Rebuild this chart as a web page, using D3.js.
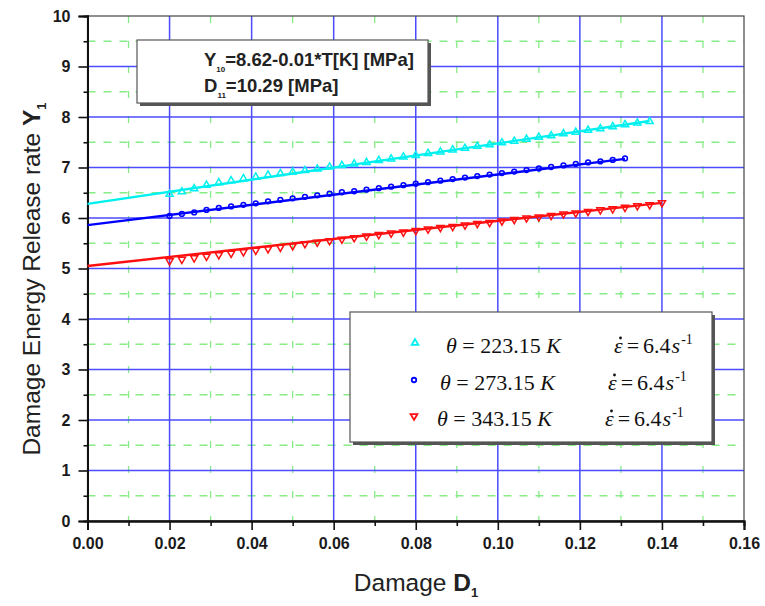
<!DOCTYPE html>
<html lang="en">
<head>
<meta charset="utf-8">
<script src="https://d3js.org/d3.v7.min.js"></script>
<style>
  body { margin: 0; background: #fff; }
  svg { display: block; font-family: Arial, "Liberation Sans", sans-serif; }
</style>
</head>
<body>
<script>
// damage D1 where points were measured (all series share these, shorter ones stop early)
const damage = [0.020, 0.023, 0.026, 0.029, 0.032, 0.035, 0.038, 0.041, 0.044, 0.047,
                0.050, 0.053, 0.056, 0.059, 0.062, 0.065, 0.068, 0.071, 0.074, 0.077,
                0.080, 0.083, 0.086, 0.089, 0.092, 0.095, 0.098, 0.101, 0.104, 0.107,
                0.110, 0.113, 0.116, 0.119, 0.122, 0.125, 0.128, 0.131, 0.134, 0.137, 0.140];

// Y1 values
const y223 = [6.47, 6.52, 6.58, 6.65, 6.70, 6.74, 6.78, 6.81, 6.85, 6.88,
              6.91, 6.94, 6.97, 7.01, 7.04, 7.07, 7.10, 7.14, 7.17, 7.21,
              7.24, 7.28, 7.31, 7.35, 7.38, 7.42, 7.45, 7.49, 7.52, 7.56,
              7.60, 7.63, 7.67, 7.70, 7.74, 7.77, 7.81, 7.85, 7.88, 7.91];
const y273 = [6.04, 6.08, 6.11, 6.16, 6.20, 6.23, 6.26, 6.29, 6.33, 6.36,
              6.39, 6.42, 6.45, 6.48, 6.51, 6.53, 6.56, 6.59, 6.62, 6.65,
              6.68, 6.71, 6.74, 6.77, 6.80, 6.83, 6.86, 6.89, 6.92, 6.95,
              6.98, 7.01, 7.04, 7.07, 7.10, 7.12, 7.15, 7.18];
const y343 = [5.15, 5.18, 5.21, 5.24, 5.27, 5.30, 5.33, 5.36, 5.39, 5.42,
              5.45, 5.49, 5.52, 5.55, 5.58, 5.61, 5.64, 5.67, 5.70, 5.72,
              5.75, 5.78, 5.81, 5.83, 5.86, 5.89, 5.91, 5.94, 5.97, 6.00,
              6.02, 6.05, 6.08, 6.10, 6.13, 6.16, 6.18, 6.21, 6.24, 6.26, 6.30];

// fitted lines, start and end points [D1, Y1]
const fit223 = [[0, 6.28], [0.137, 7.92]];
const fit273 = [[0, 5.86], [0.131, 7.17]];
const fit343 = [[0, 5.05], [0.140, 6.30]];

const temps = ["223.15", "273.15", "343.15"];
const xTicks = [0, 0.02, 0.04, 0.06, 0.08, 0.10, 0.12, 0.14, 0.16];
const yTicks = [0, 1, 2, 3, 4, 5, 6, 7, 8, 9, 10];

const W = 765, H = 606;
const svg = d3.select("body").append("svg").attr("width", W).attr("height", H);

const x = d3.scaleLinear().domain([0, 0.16]).range([87.5, 744]);
const y = d3.scaleLinear().domain([0, 10]).range([521, 16]);

//minor grid - green dashed
const minorX = d3.range(0.01, 0.16, 0.02);
const minorY = d3.range(0.5, 10, 1);
svg.selectAll(".gmx").data(minorX).enter().append("line")
   .attr("x1", d => x(d)).attr("x2", d => x(d))
   .attr("y1", y(10)).attr("y2", y(0))
   .attr("stroke", "#86ec86").attr("stroke-width", 1.3)
   .attr("stroke-dasharray", "7,18");
svg.selectAll(".gmy").data(minorY).enter().append("line")
   .attr("x1", x(0)).attr("x2", x(0.16))
   .attr("y1", d => y(d)).attr("y2", d => y(d))
   .attr("stroke", "#86ec86").attr("stroke-width", 1.3)
   .attr("stroke-dasharray", "8,8");

//major grid - blue
svg.selectAll(".gx").data(xTicks.slice(1, -1)).enter().append("line")
   .attr("x1", d => x(d)).attr("x2", d => x(d))
   .attr("y1", y(10)).attr("y2", y(0))
   .attr("stroke", "#4b4bff").attr("stroke-width", 1.5);
svg.selectAll(".gy").data(yTicks.slice(1, -1)).enter().append("line")
   .attr("x1", x(0)).attr("x2", x(0.16))
   .attr("y1", d => y(d)).attr("y2", d => y(d))
   .attr("stroke", "#4b4bff").attr("stroke-width", 1.5);

//frame
svg.append("rect")
   .attr("x", x(0)).attr("y", y(10))
   .attr("width", x(0.16) - x(0)).attr("height", y(0) - y(10))
   .attr("fill", "none").attr("stroke", "#444").attr("stroke-width", 1.2);

//axes
const xAxis = d3.axisBottom(x).tickValues(xTicks).tickFormat(d3.format(".2f"))
                .tickSize(9).tickPadding(8);
const xMinor = d3.axisBottom(x).tickValues(minorX).tickFormat("").tickSize(5);
const yAxis = d3.axisLeft(y).tickValues(yTicks).tickFormat(d3.format("d"))
                .tickSize(9).tickPadding(8);
const yMinor = d3.axisLeft(y).tickValues(minorY).tickFormat("").tickSize(4);

[[xAxis, "translate(0," + y(0) + ")"], [xMinor, "translate(0," + y(0) + ")"],
 [yAxis, "translate(" + x(0) + ",0)"], [yMinor, "translate(" + x(0) + ",0)"]].forEach(a => {
  const g = svg.append("g").attr("transform", a[1]).call(a[0]);
  g.selectAll("path").attr("stroke", "#111").attr("stroke-width", 2);
  g.selectAll("line").attr("stroke", "#111").attr("stroke-width", 1.6);
  g.selectAll("text").attr("fill", "#1a1a1a")
   .style("font-size", "16px").style("font-weight", "bold")
   .style("font-family", "Arial, 'Liberation Sans', sans-serif");
});

//series
const series = [
  {ys: y223, fit: fit223, color: "#00f0f0", sym: d3.symbolTriangle, rot: 0},
  {ys: y273, fit: fit273, color: "#0000ff", sym: d3.symbolCircle, rot: 0},
  {ys: y343, fit: fit343, color: "#ff1010", sym: d3.symbolTriangle, rot: 180}
];
const line = d3.line().x(d => x(d[0])).y(d => y(d[1]));

series.forEach(s => {
  const pts = s.ys.map((v, i) => [damage[i], v]);
  svg.append("g").selectAll("path").data(pts).enter().append("path")
     .attr("d", d3.symbol().type(s.sym).size(s.sym === d3.symbolCircle ? 18 : 22))
     .attr("transform", d => "translate(" + x(d[0]) + "," + y(d[1]) + ") rotate(" + s.rot + ")")
     .attr("fill", "none").attr("stroke", s.color).attr("stroke-width", 1.5);
  svg.append("path").datum(s.fit).attr("d", line)
     .attr("fill", "none").attr("stroke", s.color).attr("stroke-width", 2.4);
});

//annotation box
const box = svg.append("g");
box.append("rect").attr("x", 140).attr("y", 43).attr("width", 291).attr("height", 63).attr("fill", "#555");
box.append("rect").attr("x", 137).attr("y", 40).attr("width", 291).attr("height", 63)
   .attr("fill", "#fff").attr("stroke", "#555").attr("stroke-width", 1.2);
const t1 = box.append("text").attr("x", 204).attr("y", 66)
   .style("font-size", "18.5px").style("font-weight", "bold").attr("fill", "#222");
t1.append("tspan").text("Y");
t1.append("tspan").attr("dy", 6).style("font-size", "8px").text("10");
t1.append("tspan").attr("dy", -6).text("=8.62-0.01*T[K] [MPa]");
const t2 = box.append("text").attr("x", 204).attr("y", 92)
   .style("font-size", "18.5px").style("font-weight", "bold").attr("fill", "#222");
t2.append("tspan").text("D");
t2.append("tspan").attr("dy", 6).style("font-size", "8px").text("11");
t2.append("tspan").attr("dy", -6).text("=10.29 [MPa]");

//legend
const leg = svg.append("g");
leg.append("rect").attr("x", 353).attr("y", 315).attr("width", 362).attr("height", 130).attr("fill", "#555");
leg.append("rect").attr("x", 350).attr("y", 312).attr("width", 362).attr("height", 130)
   .attr("fill", "#fff").attr("stroke", "#555").attr("stroke-width", 1.2);
const rowY = [353, 390, 426];
const thetaX = [446, 440, 437];
const epsX = [614, 608, 605];
series.forEach((s, i) => {
  leg.append("path")
     .attr("d", d3.symbol().type(s.sym).size(s.sym === d3.symbolCircle ? 16 : 20))
     .attr("transform", "translate(" + (i === 0 ? 415 : 414) + "," + (rowY[i] - 10) + ") rotate(" + s.rot + ")")
     .attr("fill", "none").attr("stroke", s.color).attr("stroke-width", 1.8);
  const th = leg.append("text").attr("x", thetaX[i]).attr("y", rowY[i])
     .style("font-family", "'Liberation Serif', 'Times New Roman', serif")
     .style("font-size", "22px").attr("fill", "#111");
  th.append("tspan").style("font-style", "italic").text("\u03B8");
  th.append("tspan").text(" = " + temps[i] + " ");
  th.append("tspan").style("font-style", "italic").text("K");
  const ep = leg.append("text").attr("x", epsX[i]).attr("y", rowY[i])
     .style("font-family", "'Liberation Serif', 'Times New Roman', serif")
     .style("font-size", "22px").attr("fill", "#111");
  ep.append("tspan").style("font-style", "italic").text("\u03B5");
  ep.append("tspan").attr("dx", 4).text("=");
  ep.append("tspan").attr("dx", 4).text("6.4");
  ep.append("tspan").attr("dx", 1).style("font-style", "italic").text("s");
  ep.append("tspan").attr("dx", 1).attr("dy", -9).style("font-size", "14px").text("-1");
  // the time-derivative dot over epsilon
  leg.append("circle").attr("cx", epsX[i] + 6.5).attr("cy", rowY[i] - 15)
     .attr("r", 1.4).attr("fill", "#111");
});

//axis titles
const xt = svg.append("text").attr("x", 416).attr("y", 591).attr("text-anchor", "middle")
   .style("font-size", "24.5px").attr("fill", "#222");
xt.append("tspan").text("Damage ");
xt.append("tspan").style("font-weight", "bold").text("D");
xt.append("tspan").attr("dy", 6).style("font-size", "13px").style("font-weight", "bold").text("1");

const yt = svg.append("text").attr("transform", "translate(40,279) rotate(-90)")
   .attr("text-anchor", "middle").style("font-size", "24.5px").attr("fill", "#222");
yt.append("tspan").text("Damage Energy Release rate ");
yt.append("tspan").style("font-weight", "bold").text("Y");
yt.append("tspan").attr("dy", 6).style("font-size", "13px").style("font-weight", "bold").text("1");
</script>
</body>
</html>
